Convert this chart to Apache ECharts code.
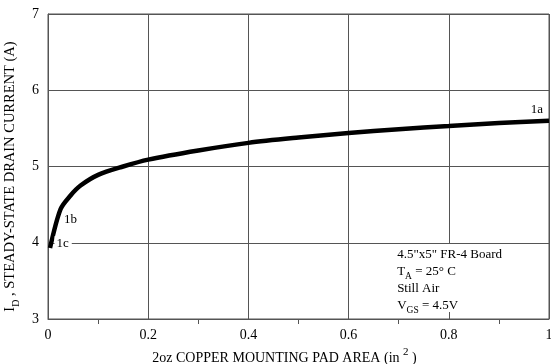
<!DOCTYPE html>
<html>
<head>
<meta charset="utf-8">
<script src="https://cdn.jsdelivr.net/npm/echarts@6/dist/echarts.min.js"></script>
<style>
  html, body { margin: 0; padding: 0; background: #fff; }
  #chart { width: 551px; height: 364px; }
</style>
</head>
<body>
<div id="chart"></div>
<script>
// Pad area (in^2) vs steady-state drain current (A)
const padArea = [0.004, 0.025, 0.045, 0.065, 0.1, 0.15, 0.2, 0.3, 0.4, 0.5, 0.6, 0.7, 0.8, 0.9, 1.0];
const drainCurrent = [3.93, 4.44, 4.62, 4.75, 4.89, 5.00, 5.09, 5.21, 5.31, 5.38, 5.44, 5.49, 5.53, 5.57, 5.60];
// Labelled points on the curve: index into the arrays above, and the label text
const pointLabels = [
  { index: 0, text: '1c' },
  { index: 1, text: '1b' },
  { index: 14, text: '1a' }
];
const xTicks = [0, 0.2, 0.4, 0.6, 0.8, 1];
const yTicks = [3, 4, 5, 6, 7];
const conditions = ['4.5"x5" FR-4 Board', 'T_A = 25° C', 'Still Air', 'V_GS = 4.5V'];

const FONT = '"Liberation Serif", "DejaVu Serif", serif';
const INK = '#000';
const GRID = '#555';

const labelStyles = {
  '1c': { position: 'right', distance: 4, offset: [0, -5], backgroundColor: '#fff', padding: [1, 3, 0, 2] },
  '1b': { position: 'right', distance: 3, offset: [0, 10] },
  '1a': { position: 'top', distance: 4, offset: [-12, 0] }
};

const lineData = padArea.map((x, i) => [x, drainCurrent[i]]);

const labelData = pointLabels.map(p => ({
  value: [padArea[p.index], drainCurrent[p.index]],
  label: Object.assign({
    show: true,
    formatter: p.text,
    fontFamily: FONT,
    fontSize: 13,
    color: INK,
    opacity: 1
  }, labelStyles[p.text])
}));

// Render "X_SUB" as rich text with a subscript
function richSub(s) {
  const m = s.match(/^(.*?)([A-Z])_([A-Z]+)(.*)$/);
  if (!m) return '{m|' + s + '}';
  return (m[1] ? '{m|' + m[1] + '}' : '') + '{m|' + m[2] + '}{s|' + m[3] + '}{m|' + m[4] + '}';
}

const chart = echarts.init(document.getElementById('chart'), null, { renderer: 'canvas' });

// Conditions note: one text block on a white panel, drawn above the grid lines
const noteText = conditions.map(richSub).join('\n');

chart.setOption({
  animation: false,
  backgroundColor: '#fff',
  grid: {
    left: 48, right: 2, top: 14, bottom: 45,
    containLabel: false,
    outerBoundsMode: 'none',
    show: true, borderColor: GRID, borderWidth: 1, backgroundColor: 'transparent'
  },
  xAxis: {
    type: 'value',
    min: xTicks[0], max: xTicks[xTicks.length - 1], interval: 0.2,
    axisLine: { show: true, lineStyle: { color: GRID, width: 1 } },
    axisTick: { show: false },
    minorTick: { show: true, splitNumber: 2, length: 5, lineStyle: { color: GRID } },
    splitLine: { show: true, lineStyle: { color: GRID, width: 1 } },
    axisLabel: {
      fontFamily: FONT, fontSize: 14, color: INK, margin: 9,
      formatter: v => (v === 0 || v === 1) ? String(v) : v.toFixed(1)
    },
    name: '{m|2oz COPPER MOUNTING PAD AREA (in }{sup|2}{m| )}',
    nameLocation: 'middle',
    nameGap: 27,
    nameTextStyle: {
      padding: [0, 28, 0, 0],
      rich: {
        m: { fontFamily: FONT, fontSize: 14, color: INK, verticalAlign: 'bottom', lineHeight: 18 },
        sup: { fontFamily: FONT, fontSize: 11, color: INK, verticalAlign: 'top', padding: [0, 0, 8, 0], lineHeight: 18 }
      }
    }
  },
  yAxis: {
    type: 'value',
    min: yTicks[0], max: yTicks[yTicks.length - 1], interval: 1,
    axisLine: { show: true, lineStyle: { color: GRID, width: 1 } },
    axisTick: { show: false },
    splitLine: { show: true, lineStyle: { color: GRID, width: 1 } },
    axisLabel: { fontFamily: FONT, fontSize: 14, color: INK, margin: 9 },
    name: '{m|I}{s|D}{m| , STEADY-STATE DRAIN CURRENT (A)}',
    nameLocation: 'middle',
    nameRotate: 90,
    nameGap: 18,
    nameTextStyle: {
      padding: [0, 20, 0, 0],
      rich: {
        m: { fontFamily: FONT, fontSize: 14.5, color: INK, lineHeight: 18, verticalAlign: 'bottom' },
        s: { fontFamily: FONT, fontSize: 10, color: INK, lineHeight: 18, verticalAlign: 'bottom', padding: [0, 0, -3, 0] }
      }
    }
  },
  series: [{
    type: 'line',
    data: lineData,
    smooth: 0.3,
    symbol: 'none',
    lineStyle: { color: INK, width: 4.5 },
    z: 5
  }, {
    type: 'scatter',
    data: labelData,
    symbolSize: 1,
    itemStyle: { color: 'rgba(0,0,0,0)', opacity: 1 },
    z: 6
  }],
  graphic: [{
    type: 'text',
    right: 4,
    bottom: 49,
    z: 100,
    silent: true,
    style: {
      text: noteText,
      backgroundColor: '#fff',
      padding: [0, 45, 0, 3],
      rich: {
        m: { fontFamily: FONT, fontSize: 13, fill: INK, verticalAlign: 'bottom', lineHeight: 17 },
        s: { fontFamily: FONT, fontSize: 9.5, fill: INK, verticalAlign: 'bottom', lineHeight: 17, padding: [0, 0, -3, 0] }
      }
    }
  }]
});
</script>
</body>
</html>
